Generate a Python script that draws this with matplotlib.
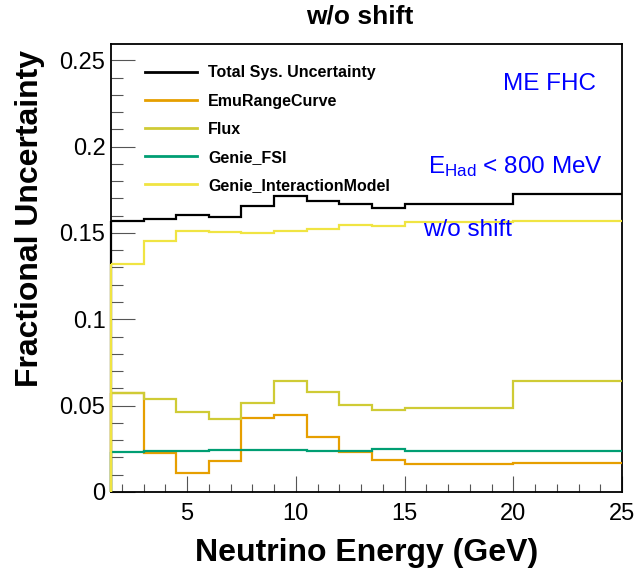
import matplotlib
matplotlib.use("Agg")
import matplotlib.pyplot as plt
from matplotlib.ticker import MultipleLocator, FixedLocator, FixedFormatter

# ---------------- data ----------------
bin_edges = [1.5, 3, 4.5, 6, 7.5, 9, 10.5, 12, 13.5, 15, 20, 25]
total_sys = [0.157, 0.1583, 0.1603, 0.1593, 0.1657, 0.1713, 0.1686, 0.1665, 0.1645, 0.1665, 0.1725]
emu_range = [0.0572, 0.0223, 0.0112, 0.0180, 0.0428, 0.0446, 0.0320, 0.0229, 0.0184, 0.0161, 0.0169]
flux = [0.0574, 0.0539, 0.0465, 0.0421, 0.0514, 0.0641, 0.0581, 0.0504, 0.0473, 0.0486, 0.0641]
genie_fsi = [0.0233, 0.0238, 0.0238, 0.0242, 0.0242, 0.0242, 0.0236, 0.0236, 0.0250, 0.0240, 0.0236]
genie_im = [0.1318, 0.1453, 0.1512, 0.1506, 0.1502, 0.1510, 0.1525, 0.1548, 0.1541, 0.1562, 0.1570]

series_labels = ["Total Sys. Uncertainty", "EmuRangeCurve", "Flux", "Genie_FSI", "Genie_InteractionModel"]
series_colors = ["#000000", "#E69F00", "#CFCB35", "#009E73", "#F0E442"]

x_ticks = [5, 10, 15, 20, 25]
x_ticklabels = ["5", "10", "15", "20", "25"]
y_ticks = [0, 0.05, 0.1, 0.15, 0.2, 0.25]
y_ticklabels = ["0", "0.05", "0.1", "0.15", "0.2", "0.25"]

title = "w/o shift"
xlabel = "Neutrino Energy (GeV)"
ylabel = "Fractional Uncertainty"

# ---------------- style ----------------
plt.rcParams["font.family"] = ["Liberation Sans", "DejaVu Sans"]
plt.rcParams["mathtext.fontset"] = "custom"
plt.rcParams["mathtext.rm"] = "Liberation Sans"
plt.rcParams["mathtext.it"] = "Liberation Sans:italic"
plt.rcParams["mathtext.bf"] = "Liberation Sans:bold"

W, H = 637, 579
fig = plt.figure(figsize=(W / 100, H / 100), dpi=100)
L, R, T, B = 111, 622, 44, 492
ax = fig.add_axes([L / W, (H - B) / H, (R - L) / W, (B - T) / H])

ax.set_xlim(1.5, 25)
ax.set_ylim(0, 0.2594)

all_series = [total_sys, emu_range, flux, genie_fsi, genie_im]
for vals, lab, col in zip(all_series, series_labels, series_colors):
    ax.stairs(vals, bin_edges, baseline=None, color=col, linewidth=1.6,
              label=lab, zorder=3, clip_on=False)
    ax.vlines(bin_edges[0], 0, vals[0], color=col, linewidth=1.6, zorder=3, clip_on=False)

for s in ax.spines.values():
    s.set_linewidth(1.3)
    s.set_zorder(2.5)

ax.xaxis.set_major_locator(FixedLocator(x_ticks))
ax.xaxis.set_major_formatter(FixedFormatter(x_ticklabels))
ax.xaxis.set_minor_locator(MultipleLocator(1))
ax.yaxis.set_major_locator(FixedLocator(y_ticks))
ax.yaxis.set_major_formatter(FixedFormatter(y_ticklabels))
ax.yaxis.set_minor_locator(MultipleLocator(0.01))

ax.tick_params(axis="both", which="both", direction="in", color="#555555", width=0.8,
               top=False, right=False)
ax.tick_params(axis="x", which="major", length=11.5, pad=8, labelsize=17)
ax.tick_params(axis="x", which="minor", length=5.5)
ax.tick_params(axis="y", which="major", length=17, pad=4, labelsize=17)
ax.tick_params(axis="y", which="minor", length=8.5)

leg = ax.legend(loc="upper left", bbox_to_anchor=((145 - L) / (R - L), (B - 65.5) / (B - T)),
                frameon=False, borderpad=0, borderaxespad=0, handlelength=3.25,
                handletextpad=0.69, labelspacing=0.82,
                prop={"family": "Liberation Sans", "weight": "bold", "size": 11.5})
for h in leg.get_lines():
    h.set_linewidth(2.0)

def px(x, y):
    return x / W, (H - y) / H

fig.text(*px(360, 17), title, ha="center", va="center", fontsize=19, fontweight="bold")
fig.text(*px(367, 553), xlabel, ha="center", va="center", fontsize=23, fontweight="bold")
fig.text(*px(30, 50), ylabel, ha="center", va="top", rotation=90, fontsize=23, fontweight="bold")

fig.text(*px(503, 90), "ME FHC", color="#0000FF", fontsize=17.5, va="baseline", ha="left")
fig.text(*px(428, 173), r"E$_{\mathrm{Had}}$ < 800 MeV", color="#0000FF", fontsize=17.5,
         va="baseline", ha="left")
fig.text(*px(423, 236), "w/o shift", color="#0000FF", fontsize=17.5, va="baseline", ha="left")

fig.savefig("out.png", dpi=100)
